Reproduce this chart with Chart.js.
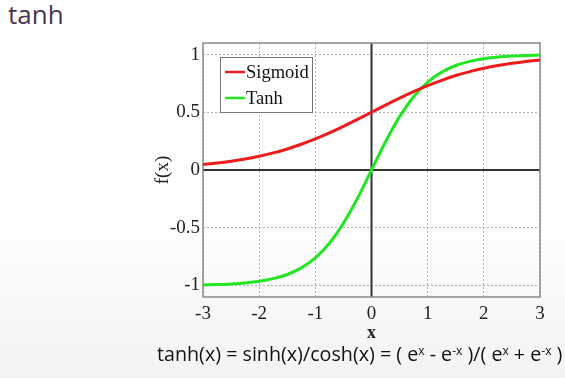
<!DOCTYPE html>
<html lang="en">
<head>
    <meta charset="UTF-8">
    <title>tanh</title>
    <style>
        html, body { margin: 0; padding: 0; }
        body {
            width: 565px; height: 378px; overflow: hidden; position: relative;
            background: linear-gradient(#ffffff 0%, #ffffff 55%, #f3f3f3 100%);
        }
        .Titulo {
            position: absolute; left: 8px; top: -4px; margin: 0;
            font-family: "Open Sans", sans-serif; font-size: 26px; color: #4b3452;
        }
        .Formula {
            position: absolute; left: 157px; top: 340px; margin: 0; white-space: nowrap;
            font-family: "Open Sans", sans-serif; font-size: 19.7px; color: #111;
        }
        .Formula sup { font-size: 12px; vertical-align: 6px; line-height: 0; }
        #myChart { position: absolute; left: 0; top: 0; }
    </style>
</head>
<body>
    <p class="Titulo">tanh</p>
    <canvas id="myChart" width="565" height="378"></canvas>
    <p class="Formula">tanh(x) = sinh(x)/cosh(x) = ( e<sup>x</sup> - e<sup>-x</sup> )/( e<sup>x</sup> + e<sup>-x</sup> )</p>

    <script src="https://cdn.jsdelivr.net/npm/chart.js"></script>
    <script>
    const xValues = [-3, -2.75, -2.5, -2.25, -2, -1.75, -1.5, -1.25, -1, -0.75, -0.5, -0.25, 0,
                     0.25, 0.5, 0.75, 1, 1.25, 1.5, 1.75, 2, 2.25, 2.5, 2.75, 3]
    const sigmoidValues = [0.047, 0.060, 0.076, 0.095, 0.119, 0.148, 0.182, 0.223, 0.269, 0.321, 0.378, 0.438, 0.5,
                           0.562, 0.622, 0.679, 0.731, 0.777, 0.818, 0.852, 0.881, 0.905, 0.924, 0.940, 0.953]
    const tanhValues = [-0.995, -0.992, -0.987, -0.978, -0.964, -0.941, -0.905, -0.848, -0.762, -0.635, -0.462, -0.245, 0,
                        0.245, 0.462, 0.635, 0.762, 0.848, 0.905, 0.941, 0.964, 0.978, 0.987, 0.992, 0.995]
    const xTicks = [-3, -2, -1, 0, 1, 2, 3]
    const yTicks = [-1, -0.5, 0, 0.5, 1]

    const serif = "'Liberation Serif', 'Times New Roman', serif"

    // frame + zero lines, drawn under the curves
    const framePlugin = {
        id: 'frame',
        beforeDatasetsDraw(chart) {
            const {ctx, chartArea: a, scales} = chart
            ctx.save()
            ctx.strokeStyle = '#333'
            ctx.lineWidth = 2
            const x0 = scales.x.getPixelForValue(0)
            const y0 = scales.y.getPixelForValue(0)
            ctx.beginPath()
            ctx.moveTo(x0, a.top); ctx.lineTo(x0, a.bottom)
            ctx.moveTo(a.left, y0); ctx.lineTo(a.right, y0)
            ctx.stroke()
            ctx.strokeStyle = '#8a8a8a'
            ctx.lineWidth = 1.5
            ctx.strokeRect(a.left, a.top, a.right - a.left, a.bottom - a.top)
            ctx.restore()
        }
    }

    // matlab style legend box inside the plot
    const legendPlugin = {
        id: 'boxLegend',
        afterDatasetsDraw(chart) {
            const {ctx, chartArea: a} = chart
            const left = a.left + 17, top = a.top + 14
            ctx.save()
            ctx.fillStyle = '#fff'
            ctx.fillRect(left, top, 92, 55)
            ctx.strokeStyle = '#777'
            ctx.lineWidth = 1
            ctx.strokeRect(left + 0.5, top + 0.5, 92, 55)
            ctx.font = '18.5px ' + serif
            ctx.textBaseline = 'middle'
            chart.data.datasets.forEach((ds, i) => {
                const y = top + 15 + i * 26
                ctx.strokeStyle = ds.borderColor
                ctx.lineWidth = 2.5
                ctx.beginPath()
                ctx.moveTo(left + 5, y); ctx.lineTo(left + 25, y)
                ctx.stroke()
                ctx.fillStyle = '#111'
                ctx.fillText(ds.label, left + 26, y + 1)
            })
            ctx.restore()
        }
    }

    const ctx = document.getElementById('myChart')

    const chartData = {
        datasets: [
            {
                label: 'Sigmoid',
                data: xValues.map((x, i) => ({x: x, y: sigmoidValues[i]})),
                borderColor: '#ee1c1c',
            },
            {
                label: 'Tanh',
                data: xValues.map((x, i) => ({x: x, y: tanhValues[i]})),
                borderColor: '#22e622',
            },
        ]
    }

    const chartConfig = {
        type: 'line',
        data: chartData,
        options: {
            responsive: false,
            animation: false,
            events: [],
            elements: {
                point: { radius: 0 },
                line: { borderWidth: 3, cubicInterpolationMode: 'monotone', fill: false }
            },
            layout: { padding: { left: 150, top: 43, right: 25, bottom: 33 } },
            plugins: { legend: { display: false }, tooltip: { enabled: false } },
            scales: {
                x: {
                    type: 'linear',
                    min: -3, max: 3,
                    afterBuildTicks: s => { s.ticks = xTicks.map(v => ({value: v})) },
                    afterFit: s => { s.height = 48 },
                    grid: { color: '#b0b0b0', lineWidth: 1, drawTicks: false },
                    border: { display: false, dash: [2, 2] },
                    ticks: { color: '#222', padding: 6, font: { family: serif, size: 19 }, callback: v => String(v) },
                    title: { display: true, text: 'x', color: '#222', padding: 1, font: { family: serif, size: 18, weight: 'bold' } }
                },
                y: {
                    type: 'linear',
                    min: -1.1, max: 1.1,
                    afterBuildTicks: s => { s.ticks = yTicks.map(v => ({value: v})) },
                    afterFit: s => { s.width = 53 },
                    grid: { color: '#b0b0b0', lineWidth: 1, drawTicks: false },
                    border: { display: false, dash: [2, 2] },
                    ticks: { color: '#222', padding: 3, font: { family: serif, size: 19 }, callback: v => String(v) },
                    title: { display: true, text: 'f(x)', color: '#222', padding: 2, font: { family: serif, size: 19 } }
                }
            }
        },
        plugins: [framePlugin, legendPlugin]
    }
    const myChart = new Chart(ctx, chartConfig)
    </script>
</body>
</html>
